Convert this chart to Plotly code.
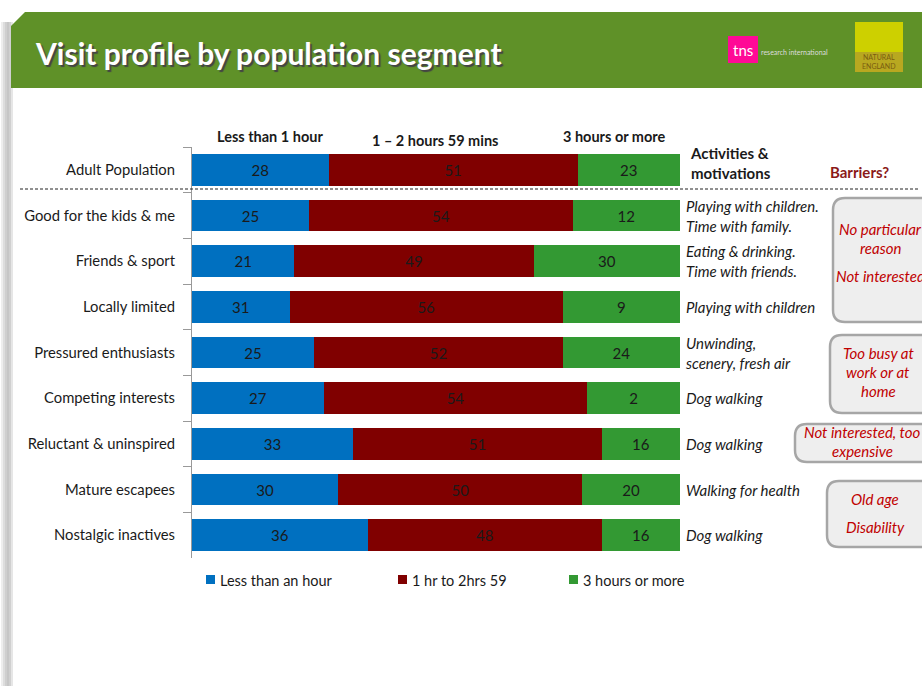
import plotly.graph_objects as go

W, H = 922, 686

categories = ["Adult Population", "Good for the kids & me", "Friends & sport", "Locally limited",
              "Pressured enthusiasts", "Competing interests", "Reluctant & uninspired",
              "Mature escapees", "Nostalgic inactives"]
# bar lengths as drawn (percent of bar)
less_hour = [28, 24, 21, 20, 25, 27, 33, 30, 36]
one_to_three = [51, 54, 49, 56, 51, 54, 51, 50, 48]
three_plus = [21, 22, 30, 24, 24, 19, 16, 20, 16]
# data labels as printed
less_hour_lbl = [28, 25, 21, 31, 25, 27, 33, 30, 36]
one_to_three_lbl = [51, 54, 49, 56, 52, 54, 51, 50, 48]
three_plus_lbl = [23, 12, 30, 9, 24, 2, 16, 20, 16]

activities = ["Playing with children.<br>Time with family.", "Eating & drinking.<br>Time with friends.",
              "Playing with children", "Unwinding,<br>scenery, fresh air", "Dog walking",
              "Dog walking", "Walking for health", "Dog walking"]

series_names = ["Less than an hour", "1 hr to 2hrs 59", "3 hours or more"]
colors = ["#0070C0", "#800000", "#339933"]
col_headers = ["Less than 1 hour", "1 – 2 hours 59 mins", "3 hours or more"]

FONT = "Lato"

fig = go.Figure()
for name, vals, lbls, c in zip(series_names, [less_hour, one_to_three, three_plus],
                               [less_hour_lbl, one_to_three_lbl, three_plus_lbl], colors):
    fig.add_trace(go.Bar(
        y=categories, x=vals, name=name, orientation="h",
        marker=dict(color=c, line=dict(width=0)),
        text=[str(v) for v in lbls], textposition="inside", insidetextanchor="middle",
        textfont=dict(family=FONT, size=15, color="#1a1a1a"),
        constraintext="none", hoverinfo="skip", showlegend=False))

def px(x):
    return x / W

def py(y):
    return 1 - y / H

x0, x1 = 192, 680
y0, y1 = 147, 558

fig.update_layout(
    width=W, height=H, barmode="stack", bargap=0.3,
    margin=dict(l=0, r=0, t=0, b=0),
    paper_bgcolor="white", plot_bgcolor="white",
    font=dict(family=FONT, size=14, color="#1a1a1a"),
    xaxis=dict(domain=[px(x0), px(x1)], range=[0, 100], visible=False, fixedrange=True),
    yaxis=dict(domain=[py(y1), py(y0)], autorange="reversed", showline=True, linecolor="#999999",
               linewidth=1, ticks="outside", tickson="boundaries", ticklen=8, tickcolor="#999999",
               ticklabelstandoff=13, tickfont=dict(family=FONT, size=14.8, color="#1a1a1a"),
               showgrid=False),
    showlegend=False,
)

shapes = []
annotations = []

def ann(x, y, text, size=14, color="#1a1a1a", xa="center", ya="middle", align="center",
        xref="paper", yref="paper", shadow=None):
    f = dict(family=FONT, size=size, color=color)
    if shadow:
        f["shadow"] = shadow
    annotations.append(dict(x=x, y=y, xref=xref, yref=yref, text=text, showarrow=False,
                            xanchor=xa, yanchor=ya, align=align, font=f))

# left slide shadow
for i, c in enumerate(["#eeeeee", "#dddddd", "#cfcfcf", "#c6c6c6", "#d0d0d0", "#e6e6e6"]):
    shapes.append(dict(type="rect", xref="paper", yref="paper", x0=px(1 + i * 2), x1=px(3 + i * 2),
                       y0=0, y1=py(22), fillcolor=c, line=dict(width=0), layer="below"))

# header band with cut corner
hx0, hx1, hy0, hy1 = 11, 922, 12, 88
path = (f"M {px(hx0)},{py(hy0+14)} L {px(hx0+14)},{py(hy0)} L {px(hx1)},{py(hy0)} "
        f"L {px(hx1)},{py(hy1)} L {px(hx0)},{py(hy1)} Z")
shapes.append(dict(type="path", xref="paper", yref="paper", path=path, fillcolor="#5f9128",
                   line=dict(width=0)))
ann(px(33), py(53), "<b>Visit profile by population segment</b>", size=30, color="white", xa="left",
    shadow="2px 2px 1px #444444")

# logos
shapes.append(dict(type="rect", xref="paper", yref="paper", x0=px(728), x1=px(758), y0=py(63), y1=py(36),
                   fillcolor="#ff0a96", line=dict(width=0)))
ann(px(743), py(50), "tns", size=15, color="white")
ann(px(759), py(52), "research international", size=7, color="#dddddd", xa="left")
shapes.append(dict(type="rect", xref="paper", yref="paper", x0=px(855), x1=px(903), y0=py(72), y1=py(22),
                   fillcolor="#cdd000", line=dict(width=0)))
shapes.append(dict(type="rect", xref="paper", yref="paper", x0=px(855), x1=px(903), y0=py(72), y1=py(52),
                   fillcolor="#b8a820", line=dict(width=0)))
ann(px(879), py(61), "NATURAL<br>ENGLAND", size=7, color="#7a5d10")

# dashed separator
shapes.append(dict(type="line", xref="paper", yref="paper", x0=px(20), x1=px(918), y0=py(189), y1=py(189),
                   line=dict(color="#222222", width=1, dash="3px,2px")))

# column headers
for txt, xx, yy in zip(col_headers, [270, 435, 614], [137, 140, 136]):
    ann(px(xx), py(yy), f"<b>{txt}</b>", size=14.5)

ann(px(688), py(163), "<b>Activities &<br>motivations</b>", size=15, xa="left", align="left")
ann(px(859), py(172), "<b>Barriers?</b>", size=15, color="#8b1a1a")

# activities (rows 1..8)
for i, txt in enumerate(activities):
    ann(px(684), categories[i + 1], f"<i>{txt}</i>", size=15, xa="left", align="left", yref="y")

def rrect(xa, ya, xb, yb, r=12):
    return (f"M {px(xa + r)},{py(ya)} L {px(xb - r)},{py(ya)} Q {px(xb)},{py(ya)} {px(xb)},{py(ya + r)} "
            f"L {px(xb)},{py(yb - r)} Q {px(xb)},{py(yb)} {px(xb - r)},{py(yb)} "
            f"L {px(xa + r)},{py(yb)} Q {px(xa)},{py(yb)} {px(xa)},{py(yb - r)} "
            f"L {px(xa)},{py(ya + r)} Q {px(xa)},{py(ya)} {px(xa + r)},{py(ya)} Z")

boxes = [
    (833, 198, 935, 322, [("No particular", 229), ("reason", 248), ("Not interested", 276)], 880),
    (830, 335, 935, 413, [("Too busy at", 353), ("work or at", 372), ("home", 391)], 878),
    (795, 424, 935, 462, [("Not interested, too", 432), ("expensive", 451)], 862),
    (827, 481, 935, 547, [("Old age", 499), ("Disability", 527)], 875),
]
for xa, ya, xb, yb, lines, cx in boxes:
    shapes.append(dict(type="path", xref="paper", yref="paper", path=rrect(xa, ya, xb, yb),
                       fillcolor="#eeeeee", line=dict(color="#a6a6a6", width=2.5)))
    for t, yy in lines:
        ann(px(cx), py(yy), f"<i>{t}</i>", size=15, color="#c00000")

# legend (drawn manually to match spacing)
leg_x = [206, 398, 569]
for name, c, lx in zip(series_names, colors, leg_x):
    shapes.append(dict(type="rect", xref="paper", yref="paper", x0=px(lx), x1=px(lx + 9),
                       y0=py(584), y1=py(575), fillcolor=c, line=dict(width=0)))
    ann(px(lx + 12), py(580), name, size=14.5, xa="left")

fig.update_layout(shapes=shapes, annotations=annotations)
fig.write_html("out.html")
